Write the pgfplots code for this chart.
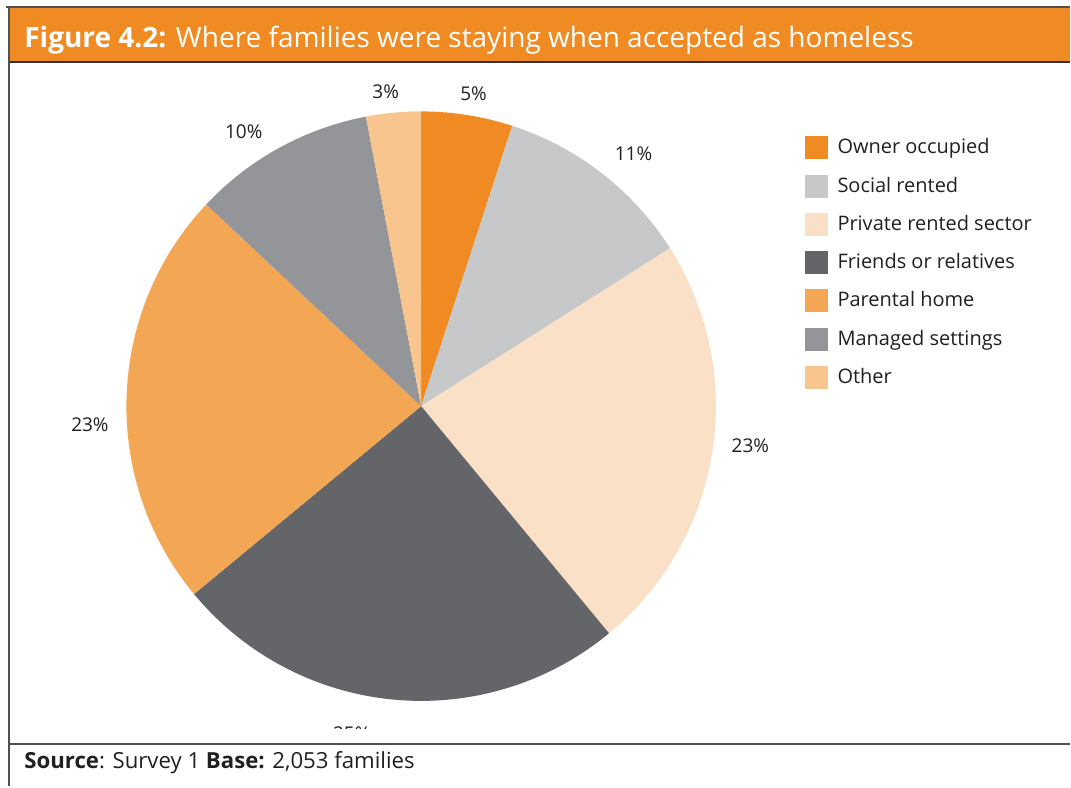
\documentclass[border=0pt]{standalone}
\usepackage{fontspec}
\setmainfont{Open Sans}
\usepackage{pgfplots}
\usepackage{pgfplotstable}
\pgfplotsset{compat=1.18}

\definecolor{cOwner}{HTML}{EF8B22}
\definecolor{cSocial}{HTML}{C7C8CA}
\definecolor{cPrivate}{HTML}{FAE0C6}
\definecolor{cFriends}{HTML}{636569}
\definecolor{cParental}{HTML}{F3A755}
\definecolor{cManaged}{HTML}{939598}
\definecolor{cOther}{HTML}{F8C58F}
\definecolor{cText}{HTML}{231F20}
\definecolor{cFrame}{HTML}{505050}

\tikzset{pct/.style={font=\fontsize{9.5}{11}\selectfont, text=cText}}

% share of families, pie colour, label position (px)
\pgfplotstableread[col sep=comma]{
label,value,color,lx,ly
Owner occupied,5,cOwner,474,94
Social rented,11,cSocial,634,154
Private rented sector,23,cPrivate,751,446
Friends or relatives,25,cFriends,352,734
Parental home,23,cParental,90,425
Managed settings,10,cManaged,244,132
Other,3,cOther,386,92
}\piedata

\begin{document}
\begin{tikzpicture}
\begin{axis}[
  x=0.5pt, y=0.5pt, y dir=reverse,
  xmin=0, xmax=1071, ymin=0, ymax=787,
  hide axis, clip=false,
  legend style={at={(axis cs:805,136)}, anchor=north west, draw=none, fill=none,
    inner sep=0pt, font=\fontsize{10}{12}\selectfont, text=cText,
    row sep=7.75pt,
    nodes={inner sep=0pt, anchor=west},
    /tikz/every odd column/.append style={column sep=5pt}},
  legend image code/.code={\fill[#1] (0pt,-5.5pt) rectangle (11pt,5.5pt);},
]
\fill[white] (axis cs:0,0) rectangle (axis cs:1071,787);

% pie wedges, clockwise from 12 o'clock
\def\cum{0}
\pgfplotsforeachungrouped \i in {0,...,6}{%
  \pgfplotstablegetelem{\i}{value}\of\piedata \let\v\pgfplotsretval
  \pgfplotstablegetelem{\i}{color}\of\piedata \let\c\pgfplotsretval
  \pgfplotstablegetelem{\i}{lx}\of\piedata \let\lx\pgfplotsretval
  \pgfplotstablegetelem{\i}{ly}\of\piedata \let\ly\pgfplotsretval
  \pgfmathsetmacro\a{90-3.6*\cum}
  \pgfmathsetmacro\b{90-3.6*(\cum+\v)}
  \edef\temp{\noexpand\fill[\c] (axis cs:421.5,406.5) -- ++(\a:147.5pt)
    arc[start angle=\a, end angle=\b, radius=147.5pt] -- cycle;
    \noexpand\node[pct] at (axis cs:\lx,\ly) {\v\noexpand\%};}
  \temp
  \pgfmathsetmacro\cum{\cum+\v}
}

\addlegendimage{cOwner}
\addlegendimage{cSocial}
\addlegendimage{cPrivate}
\addlegendimage{cFriends}
\addlegendimage{cParental}
\addlegendimage{cManaged}
\addlegendimage{cOther}
\legend{Owner occupied, Social rented, Private rented sector,
  Friends or relatives, Parental home, Managed settings, Other}

% the chart area cuts the bottom label
\fill[white] (axis cs:10,730) rectangle (axis cs:1071,744);

% header bar and frame
\fill[cOwner] (axis cs:9,8) rectangle (axis cs:1071,62);
\draw[cFrame, line width=0.9pt] (axis cs:6,7) -- (axis cs:1071,7);
\draw[black!80, line width=0.9pt] (axis cs:9,62) -- (axis cs:1071,62);
\draw[cFrame, line width=0.9pt] (axis cs:9,7) -- (axis cs:9,787);
\draw[cFrame, line width=0.9pt] (axis cs:9,745) -- (axis cs:1071,745);

\node[anchor=base west, text=white, font=\fontsize{14}{17}\selectfont, inner sep=0pt]
  at (axis cs:24,48) {\textbf{Figure 4.2:} Where families were staying when accepted as homeless};
\node[anchor=base west, text=cText, font=\fontsize{11.1}{13}\selectfont, inner sep=0pt]
  at (axis cs:24,769) {\textbf{Source}: Survey 1 \textbf{Base:} 2,053 families};
\end{axis}
\end{tikzpicture}
\end{document}
